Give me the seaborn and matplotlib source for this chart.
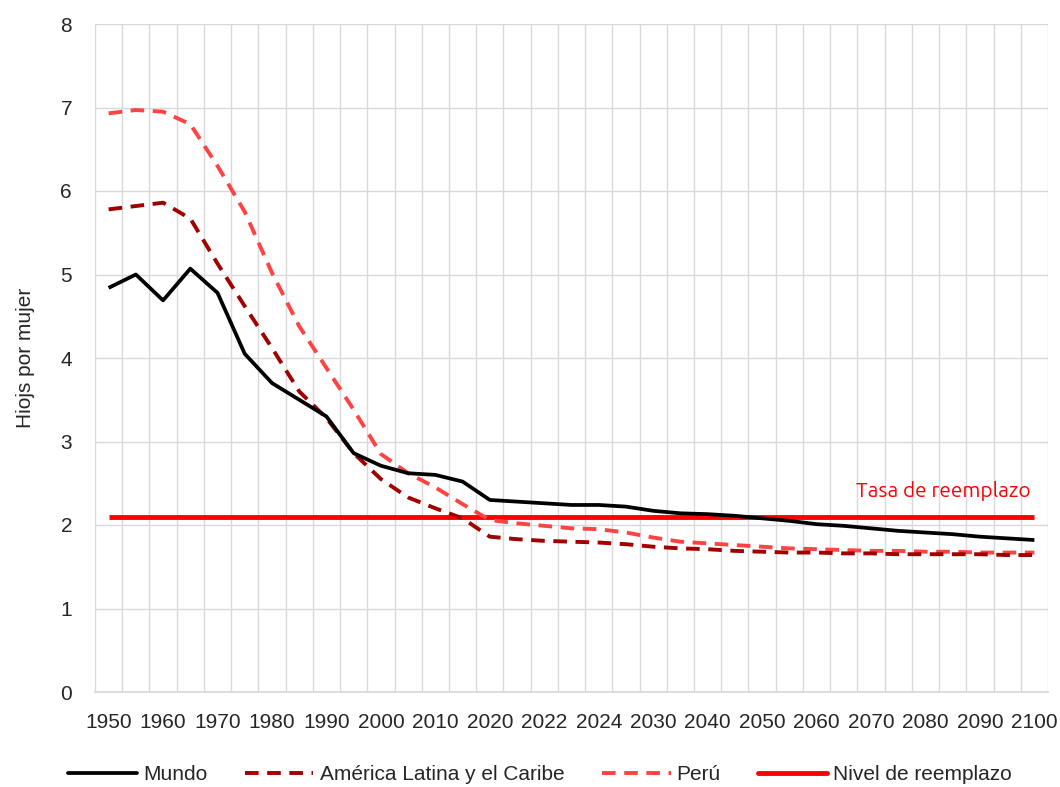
import matplotlib
matplotlib.use("Agg")
import matplotlib.pyplot as plt
import seaborn as sns
import pandas as pd
import numpy as np

# Categories (35 points, every other labelled)
years = ["1950", "1955", "1960", "1965", "1970", "1975", "1980", "1985", "1990", "1995",
         "2000", "2005", "2010", "2015", "2020", "2021", "2022", "2023", "2024", "2025",
         "2030", "2035", "2040", "2045", "2050", "2055", "2060", "2065", "2070", "2075",
         "2080", "2085", "2090", "2095", "2100"]

mundo = [4.84, 5.00, 4.69, 5.07, 4.78, 4.05, 3.70, 3.50, 3.30, 2.86,
         2.71, 2.62, 2.60, 2.52, 2.30, 2.28, 2.26, 2.24, 2.24, 2.22,
         2.17, 2.14, 2.13, 2.11, 2.08, 2.05, 2.01, 1.99, 1.96, 1.93,
         1.91, 1.89, 1.86, 1.84, 1.82]

alc = [5.78, 5.82, 5.86, 5.67, 5.13, 4.62, 4.12, 3.60, 3.28, 2.86,
       2.55, 2.33, 2.20, 2.08, 1.86, 1.83, 1.81, 1.80, 1.79, 1.77,
       1.74, 1.72, 1.71, 1.69, 1.68, 1.67, 1.67, 1.66, 1.66, 1.65,
       1.65, 1.65, 1.65, 1.64, 1.64]

peru = [6.93, 6.97, 6.95, 6.80, 6.30, 5.75, 5.02, 4.38, 3.88, 3.38,
        2.85, 2.62, 2.45, 2.25, 2.06, 2.02, 1.99, 1.96, 1.95, 1.91,
        1.85, 1.80, 1.78, 1.76, 1.74, 1.72, 1.71, 1.70, 1.69, 1.69,
        1.68, 1.68, 1.67, 1.67, 1.67]

reemplazo = [2.1] * 35

series_names = ["Mundo", "América Latina y el Caribe", "Perú", "Nivel de reemplazo"]
colors = ["#000000", "#A00000", "#FF4343", "#FF0000"]

sns.set_theme(style="white")
plt.rcParams['font.family'] = ["Liberation Sans", 'DejaVu Sans']

df = pd.DataFrame({
    "x": list(range(len(years))) * 4,
    "value": mundo + alc + peru + reemplazo,
    "serie": sum([[n] * len(years) for n in series_names], []),
})

fig = plt.figure(figsize=(10.6, 7.87), dpi=100)
ax = fig.add_axes([95 / 1060, 1 - 692 / 787, 953 / 1060, 668 / 787])

styles = {
    "Mundo": dict(lw=2.7, ls="-"),
    "América Latina y el Caribe": dict(lw=2.8, ls=(0, (3.5, 2.2))),
    "Perú": dict(lw=2.8, ls=(0, (3.5, 2.2))),
    "Nivel de reemplazo": dict(lw=3.5, ls="-"),
}
order = ["Nivel de reemplazo", "Perú", "América Latina y el Caribe", "Mundo"]
zorders = {"Nivel de reemplazo": 3, "Perú": 4, "América Latina y el Caribe": 5, "Mundo": 6}
for name in order:
    sub = df[df["serie"] == name]
    c = colors[series_names.index(name)]
    sns.lineplot(data=sub, x="x", y="value", ax=ax, color=c,
                 linewidth=styles[name]["lw"], linestyle=styles[name]["ls"],
                 label=name, zorder=zorders[name], legend=False,
                 solid_capstyle="butt", dash_capstyle="butt", solid_joinstyle="round")

ax.set_xlim(-0.5, len(years) - 0.5)
ax.set_ylim(0, 8)
ax.set_yticks(range(0, 9))
ax.set_xticks(range(0, len(years), 2))
ax.set_xticklabels(years[::2])
ax.set_xticks(np.arange(-0.5, len(years), 1), minor=True)
ax.grid(False)
ax.grid(True, which="minor", axis="x", color="#D9D9D9", lw=1.0)
ax.grid(True, which="major", axis="y", color="#D9D9D9", lw=1.0)
ax.tick_params(axis="both", which="both", length=0, labelsize=15, colors="#262626")
ax.tick_params(axis="x", pad=15)
ax.tick_params(axis="y", pad=16.5)
for side in ["top", "right", "left"]:
    ax.spines[side].set_visible(False)
ax.spines["bottom"].set_color("#D9D9D9")
ax.set_xlabel("")
ax.set_ylabel("Hiojs por mujer", fontsize=15, color="#262626", labelpad=18)

ax.text(33.85, 2.34, "Tasa de reemplazo", color="#FF0000", fontsize=15,
        ha="right", va="baseline", family=["Ubuntu", "Open Sans", "DejaVu Sans"])

handles = [plt.Line2D([], [], color=colors[i], lw=styles[n]["lw"], ls=styles[n]["ls"])
           for i, n in enumerate(series_names)]
fig.legend(handles, series_names, loc="center", bbox_to_anchor=(540 / 1060, 1 - 775 / 787),
           ncol=4, frameon=False, fontsize=15, handlelength=3.3, columnspacing=1.8,
           handletextpad=0.3, labelcolor="#262626")

fig.savefig("out.png", dpi=100)
